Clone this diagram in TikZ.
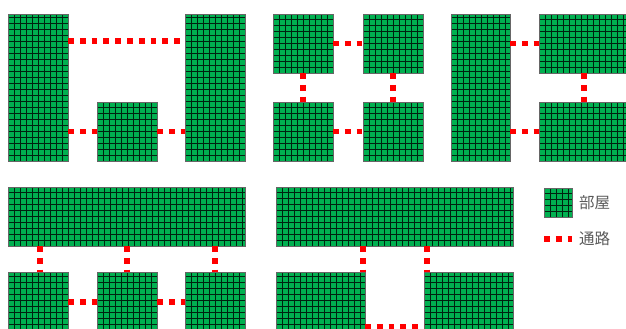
\documentclass[tikz,border=0pt]{standalone}
\usepackage{fontspec}
\usepackage{xcolor}
\usepackage{tikz}
\usetikzlibrary{positioning}
\newfontfamily\jpfont{Noto Sans CJK JP}

\definecolor{roomgreen}{HTML}{00B050}
\definecolor{labelgray}{HTML}{595959}

% room: name, left, top, width, height (in px of the reference)
\newcommand{\room}[5]{%
  \node[room, minimum width=#4pt, minimum height=#5pt, anchor=north west] (#1) at (#2,-#3) {};
  \draw[roomgrid, shift={(#2,-#3-#5)}] (0,0) grid (#4,#5);
  \draw[roomedge] (#1.south west) rectangle (#1.north east);
}

\begin{document}
\begin{tikzpicture}[
  x=1pt, y=1pt,
  room/.style={rectangle, fill=roomgreen, inner sep=0pt, outer sep=0pt},
  roomgrid/.style={step=6, draw=black, draw opacity=0.8, line width=0.6pt},
  roomedge/.style={draw=black!60, line width=0.8pt},
  corridor/.style={draw=red, line width=5.8pt, dash pattern=on 5.8pt off 6pt},
  keylabel/.style={font=\jpfont\fontsize{15.5}{18}\selectfont, text=labelgray, inner sep=0pt, anchor=west}
]
\clip (0,0) rectangle (626,-329);

% top row
\room{A}{8}{14}{60}{147}
\room{B}{97}{102}{60}{59}
\room{C}{185}{14}{60}{147}

\room{D}{273}{14}{60}{59}
\room{E}{363}{14}{60}{59}
\room{F}{273}{102}{60}{59}
\room{G}{363}{102}{60}{59}

\room{H}{451}{14}{59}{147}
\room{I}{539}{14}{90}{59}
\room{J}{539}{102}{90}{59}

% bottom row
\room{K}{8}{187}{237}{59}
\room{L}{8}{272}{60}{70}
\room{M}{97}{272}{60}{70}
\room{N}{185}{272}{60}{70}

\room{O}{276}{187}{237}{59}
\room{P}{276}{272}{89}{70}
\room{Q}{424}{272}{89}{70}

% legend
\room{key}{544}{188}{28}{29}
\node[keylabel, right=7pt of key] (keyroom) {部屋};
\coordinate (keyA) at (544,-239);
\coordinate (keyB) at (572,-239);
\node[keylabel, right=7pt of keyB] (keypath) {通路};

% corridors
\draw[corridor] ([yshift=-27pt]A.north east) -- ([yshift=-27pt]C.north west);
\draw[corridor] (A.east |- B.west) -- (B.west);
\draw[corridor] (B.east) -- (C.west |- B.east);

\draw[corridor] (D.east) -- (E.west);
\draw[corridor] (F.east) -- (G.west);
\draw[corridor] (D.south) -- (F.north);
\draw[corridor] (E.south) -- (G.north);

\draw[corridor] (H.east |- I.west) -- (I.west);
\draw[corridor] (H.east |- J.west) -- (J.west);
\draw[corridor] ([xshift=45pt]I.south west) -- ([xshift=45pt]J.north west);

\coordinate (kl) at ([xshift=2pt]L.north);
\draw[corridor] (K.south -| kl) -- (kl);
\draw[corridor] (K.south -| M.north) -- (M.north);
\draw[corridor] (K.south -| N.north) -- (N.north);
\draw[corridor] ([yshift=-30pt]L.north east) -- ([yshift=-30pt]M.north west);
\draw[corridor] ([yshift=-30pt]M.north east) -- ([yshift=-30pt]N.north west);

\coordinate (op) at ([xshift=-2pt]P.north east);
\coordinate (oq) at ([xshift=3pt]Q.north west);
\draw[corridor] (O.south -| op) -- (op);
\draw[corridor] (O.south -| oq) -- (oq);
\draw[corridor] ([yshift=-55pt]P.north east) -- ([yshift=-55pt]Q.north west);

\draw[corridor] (keyA) -- (keyB);
\end{tikzpicture}
\end{document}
